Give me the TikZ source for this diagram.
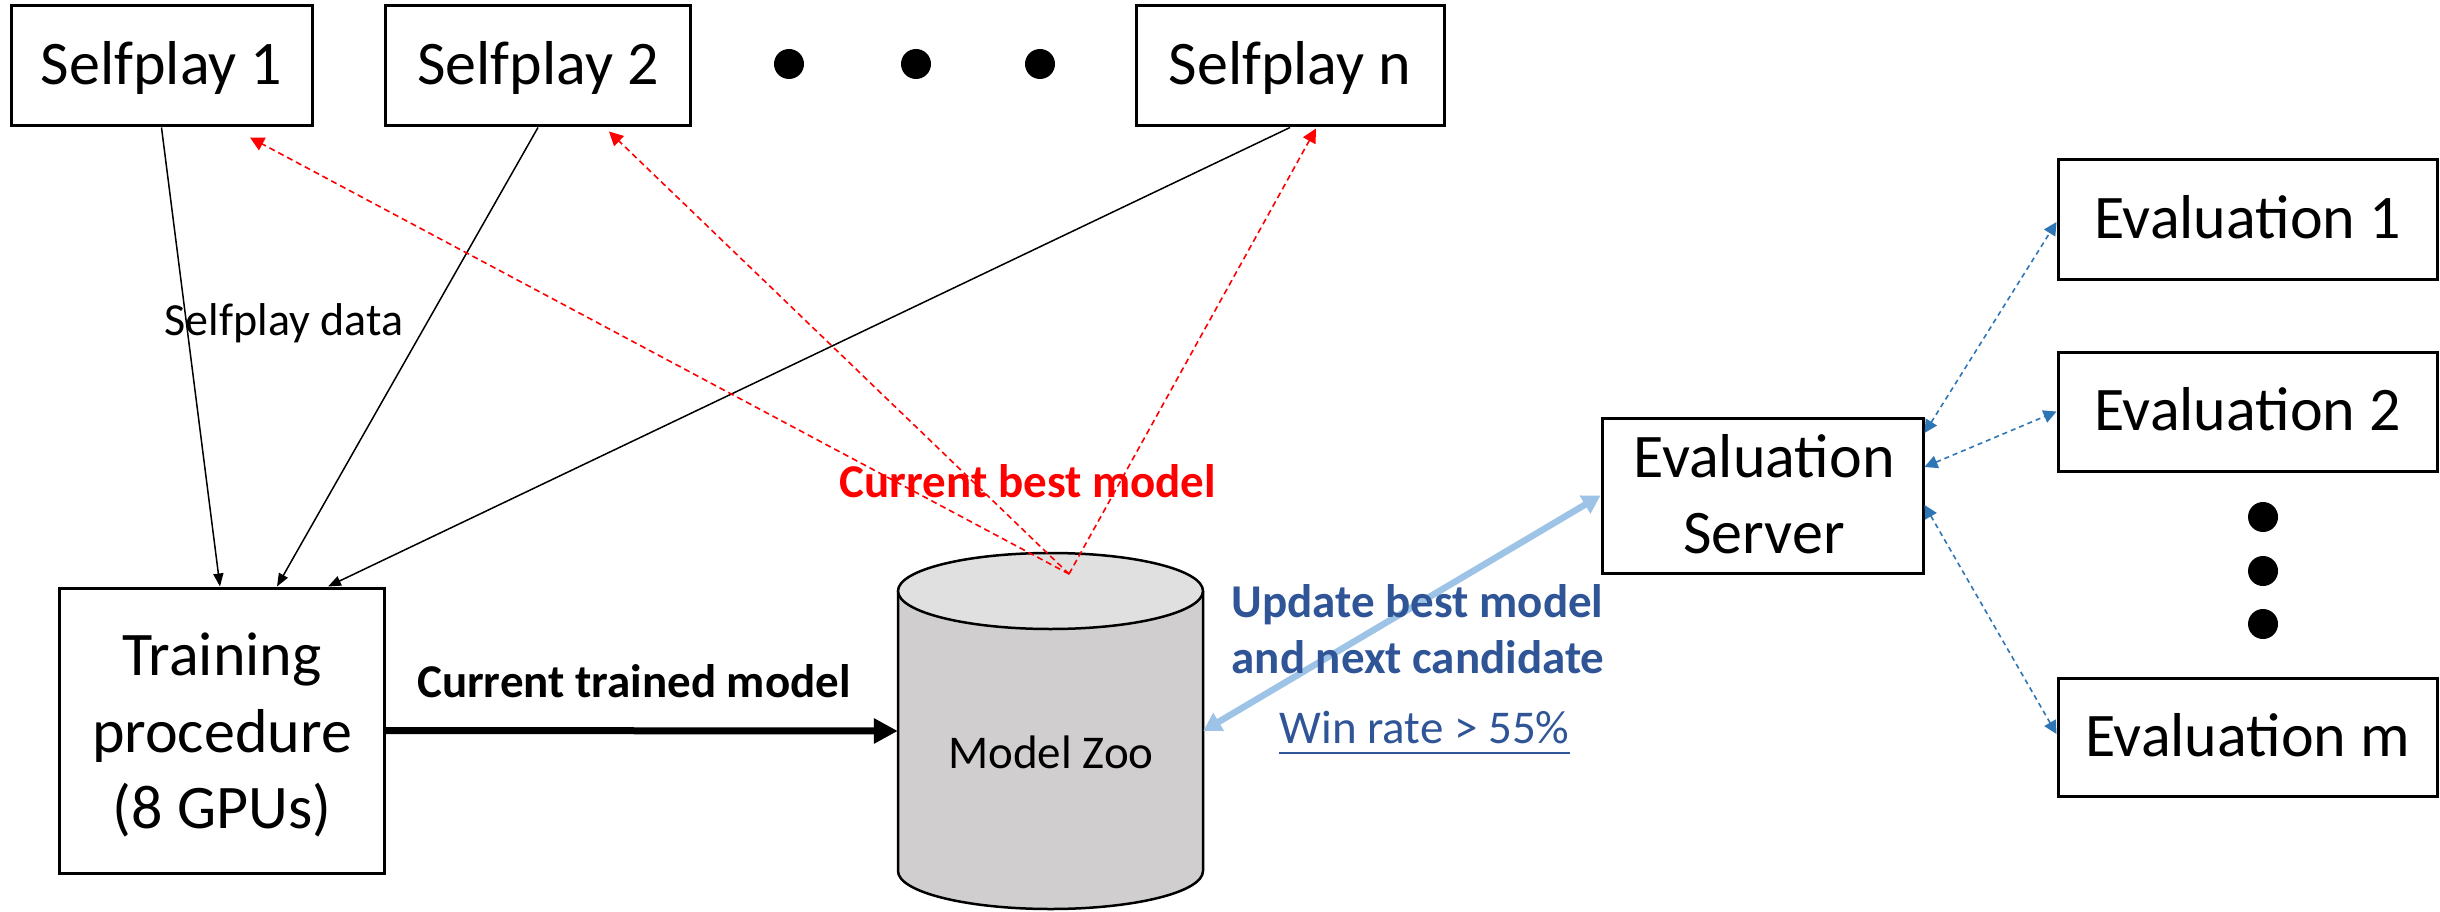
\documentclass[tikz,border=0pt]{standalone}
\usepackage{fontspec}
\setmainfont{Carlito}
\usetikzlibrary{arrows.meta,calc}
\definecolor{redc}{RGB}{255,0,0}
\definecolor{ltblue}{RGB}{157,195,230}
\definecolor{dkblue}{RGB}{47,85,151}
\definecolor{midblue}{RGB}{46,117,182}
\definecolor{zoobody}{RGB}{208,206,206}
\definecolor{zootop}{RGB}{224,224,224}
\begin{document}
\begin{tikzpicture}[x=1pt,y=-1pt,
  box/.style={draw=black,line width=3pt,inner sep=0pt,font=\fontsize{62}{74}\selectfont,text height=50pt,text depth=12pt},
  frame/.style={draw=black,line width=3pt,inner sep=0pt},
  bigtxt/.style={inner sep=0pt,anchor=base,font=\fontsize{62}{74}\selectfont},
  lbl/.style={inner sep=0pt,anchor=base,font=\fontsize{47}{56}\selectfont},
  dot/.style={circle,fill=black,inner sep=0pt,minimum size=30pt},
  thinarr/.style={draw=black,line width=1.5pt,-{Triangle[length=13pt,width=10pt]}},
  redarr/.style={draw=redc,line width=1.6pt,dash pattern=on 6pt off 4pt,-{Triangle[length=14pt,width=14pt]}},
  thickarr/.style={draw=black,line width=7pt,-{Triangle[length=24pt,width=24pt]}},
  lbarr/.style={draw=ltblue,line width=6.5pt,{Triangle[length=18pt,width=20pt]}-{Triangle[length=18pt,width=20pt]}},
  evarr/.style={draw=midblue,line width=1.6pt,dash pattern=on 5pt off 4pt,{Triangle[length=13pt,width=13pt]}-{Triangle[length=13pt,width=13pt]}}
]
\path[use as bounding box] (0,0) rectangle (2440,912);

% Selfplay boxes
\node[box,minimum width=301pt,minimum height=120pt] (sp1) at (161.5,66) {Selfplay 1};
\node[box,minimum width=305pt,minimum height=120pt] (sp2) at (538,66) {Selfplay 2};
\node[box,minimum width=308pt,minimum height=120pt] (spn) at (1290,66) {Selfplay n};
\node[dot] (hd1) at (789,64) {};
\node[dot] (hd2) at (916,64) {};
\node[dot] (hd3) at (1040,64) {};

% Training box
\node[frame,minimum width=325pt,minimum height=285pt] (train) at (221.5,730.5) {};
\node[bigtxt] (tr1) at (222,675) {Training};
\node[bigtxt] (tr2) at (222,752) {procedure};
\node[bigtxt] (tr3) at (222,828) {(8 GPUs)};

% Model Zoo cylinder
\filldraw[fill=zoobody,draw=black,line width=2.5pt] (898,591) -- (898,871)
  arc[start angle=180,end angle=360,x radius=152.5pt,y radius=38pt] -- (1203,591);
\filldraw[fill=zootop,draw=black,line width=2.5pt] (1050.5,591) ellipse [x radius=152.5pt,y radius=38pt];
\node[inner sep=0pt,minimum width=305pt,minimum height=10pt] (zoo) at (1050.5,731) {};
\node[lbl] (zootxt) at (1051,768) {Model Zoo};
\coordinate (best) at (1069,574);

% Evaluation server and workers
\node[frame,minimum width=321pt,minimum height=155pt] (eserver) at (1762.5,495.5) {};
\node[bigtxt] (es1) at (1764,477) {Evaluation};
\node[bigtxt] (es2) at (1764,553) {Server};
\node[box,minimum width=379pt,minimum height=119pt] (ev1) at (2247.5,219.5) {Evaluation 1};
\node[box,minimum width=379pt,minimum height=119pt] (ev2) at (2247.5,411.5) {Evaluation 2};
\node[box,minimum width=379pt,minimum height=118pt] (evm) at (2247.5,737) {Evaluation m};
\node[dot] (vd1) at (2263,517) {};
\node[dot] (vd2) at (2263,571) {};
\node[dot] (vd3) at (2263,624) {};

% Selfplay data arrows
\draw[thinarr] (sp1.south) -- ($(train.north)+(-1.5,0)$);
\draw[thinarr] (sp2.south) -- ($(train.north)+(55.5,0)$);
\draw[thinarr] (spn.south) -- ($(train.north)+(106.5,0)$);
\node[inner sep=0pt,anchor=base,font=\fontsize{46}{55}\selectfont] (sdata) at (284,335) {Selfplay data};

% Current best model arrows
\draw[redarr] (best) -- ($(sp1.south)+(88.5,10)$);
\draw[redarr] (best) -- ($(sp2.south)+(71,4)$);
\draw[redarr] (best) -- ($(spn.south)+(26,1)$);
\node[lbl,text=redc,font=\fontsize{47}{56}\selectfont\bfseries] (cbm) at (1028,497) {Current best model};

% Current trained model
\draw[thickarr] (train.east) -- (zoo.west);
\node[lbl,font=\fontsize{47}{56}\selectfont\bfseries] (ctm) at (634,697) {Current trained model};

% Update best model
\draw[lbarr] (zoo.east) -- (eserver.west);
\node[lbl,text=dkblue,font=\fontsize{47}{56}\selectfont\bfseries] (upd1) at (1417.5,617) {Update best model};
\node[lbl,text=dkblue,font=\fontsize{47}{56}\selectfont\bfseries] (upd2) at (1418,673) {and next candidate};
\node[lbl,text=dkblue] (win) at (1424.5,743) {Win rate > 55\%};
\draw[dkblue,line width=2pt] ($(win.base west)+(0,10)$) -- ($(win.base east)+(0,10)$);

% Evaluation links
\draw[evarr] ($(eserver.east)+(0,-62.5)$) -- ($(ev1.west)+(0,2.5)$);
\draw[evarr] ($(eserver.east)+(0,-28.5)$) -- (ev2.west);
\draw[evarr] ($(eserver.east)+(0,9.5)$) -- ($(evm.west)+(0,-3)$);
\end{tikzpicture}
\end{document}
